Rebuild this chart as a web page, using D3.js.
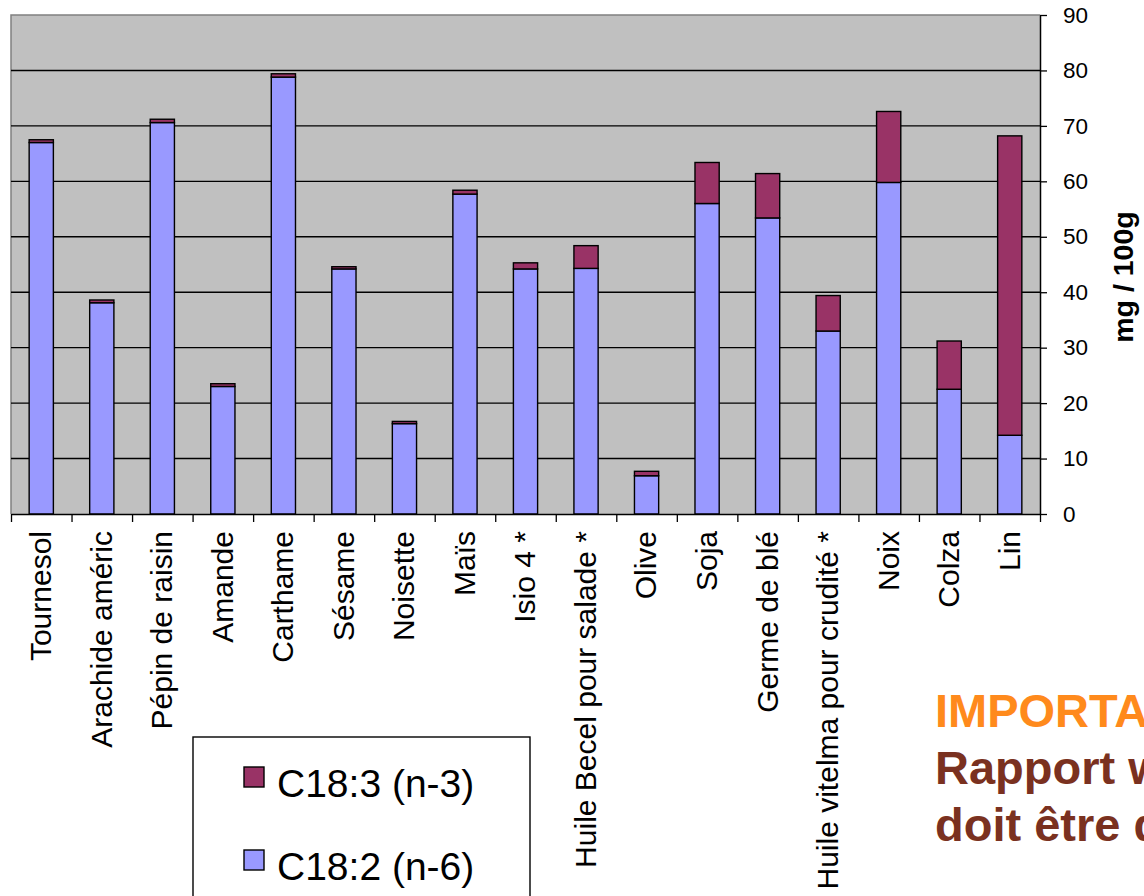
<!DOCTYPE html>
<html><head><meta charset="utf-8">
<script src="https://cdn.jsdelivr.net/npm/d3@7"></script>
<style>html,body{margin:0;padding:0;background:#fff;overflow:hidden}svg{display:block}</style>
</head><body>
<script>
const categories = ["Tournesol","Arachide améric","Pépin de raisin","Amande","Carthame","Sésame","Noisette","Maïs","Isio 4 *","Huile Becel pour salade *","Olive","Soja","Germe de blé","Huile vitelma pour crudité *","Noix","Colza","Lin"];
const n6 = [67.0, 38.1, 70.6, 23.0, 78.8, 44.2, 16.3, 57.7, 44.2, 44.3, 6.9, 56.0, 53.4, 33.0, 59.8, 22.5, 14.2];
const n3 = [0.5, 0.5, 0.6, 0.5, 0.6, 0.4, 0.4, 0.7, 1.1, 4.1, 0.8, 7.4, 8.0, 6.4, 12.8, 8.7, 54.0];
const seriesNames = ["C18:3 (n-3)", "C18:2 (n-6)"];
const yTicks = [0,10,20,30,40,50,60,70,80,90];
const gridTicks = [10,20,30,40,50,60,70,80];
const yTitle = "mg / 100g";
const noteLines = ["IMPORTANT :", "Rapport w6/w3", "doit être de 5/1"];

const W = 1144, H = 896;
const svg = d3.select("body").append("svg").attr("width", W).attr("height", H);
const L = 11, R = 1040, T = 15, B = 514;
const font = "'Liberation Sans', Arial, sans-serif";

const x = d3.scaleBand().domain(categories).range([L, R]).paddingInner(0.6).paddingOuter(0.3);
const xb = d3.scaleLinear().domain([0, categories.length]).range([L, R]);
const y = d3.scaleLinear().domain([0, 90]).range([B, T]);

// plot background
svg.append("rect").attr("x", L).attr("y", T).attr("width", R - L).attr("height", B - T).attr("fill", "#C0C0C0");
// top/left border gray
svg.append("path").attr("d", `M${L},${B}V${T}H${R}`).attr("fill", "none").attr("stroke", "#808080").attr("stroke-width", 1.5);

// gridlines
svg.append("g").selectAll("line").data(gridTicks).join("line")
  .attr("x1", L).attr("x2", R).attr("y1", d => y(d)).attr("y2", d => y(d))
  .attr("stroke", "#000").attr("stroke-width", 1.4);

// stacked bars
const stackData = categories.map((c, i) => ({cat: c, n6: n6[i], n3: n3[i]}));
const stack = d3.stack().keys(["n6", "n3"])(stackData);
const colors = {n6: "#9999FF", n3: "#993366"};
svg.append("g").selectAll("g").data(stack).join("g")
  .attr("fill", d => colors[d.key])
  .selectAll("rect").data(d => d).join("rect")
  .attr("x", d => x(d.data.cat))
  .attr("width", x.bandwidth())
  .attr("y", d => y(d[1]))
  .attr("height", d => y(d[0]) - y(d[1]))
  .attr("stroke", "#000").attr("stroke-width", 1.4);

// bottom axis with ticks between categories
const xAxis = svg.append("g").attr("transform", `translate(0,${B})`)
  .call(d3.axisBottom(xb).tickValues(d3.range(categories.length + 1)).tickFormat("").tickSize(8).tickSizeOuter(0));
xAxis.select(".domain").attr("stroke", "#000").attr("stroke-width", 1.5);
xAxis.selectAll(".tick line").attr("stroke", "#000").attr("stroke-width", 1.3);

// category labels
svg.append("g").selectAll("text").data(categories).join("text")
  .attr("transform", d => `translate(${x(d) + x.bandwidth() / 2},531) rotate(-90)`)
  .attr("text-anchor", "end").attr("dy", "0.33em")
  .attr("font-family", font).attr("font-size", 30).attr("fill", "#000")
  .text(d => d);

// right axis
const yAxis = svg.append("g").attr("transform", `translate(${R},0)`)
  .call(d3.axisRight(y).tickValues(yTicks).tickSize(7).tickPadding(16).tickSizeOuter(0));
yAxis.select(".domain").attr("stroke", "#000").attr("stroke-width", 1.5);
yAxis.selectAll(".tick line").attr("stroke", "#000").attr("stroke-width", 1.3);
yAxis.selectAll(".tick text").attr("font-family", font).attr("font-size", 22.5).attr("fill", "#000");

// y title
svg.append("text").attr("transform", `translate(1133,277) rotate(-90)`)
  .attr("text-anchor", "middle")
  .attr("font-family", font).attr("font-size", 28.5).attr("font-weight", "bold").text(yTitle);

// legend
const lg = svg.append("g");
lg.append("rect").attr("x", 193).attr("y", 737).attr("width", 337).attr("height", 200)
  .attr("fill", "#fff").attr("stroke", "#000").attr("stroke-width", 1.4);
const legItems = [{name: seriesNames[0], color: colors.n3}, {name: seriesNames[1], color: colors.n6}];
legItems.forEach((it, i) => {
  const oy = i * 83;
  lg.append("rect").attr("x", 244).attr("y", 767 + oy).attr("width", 20).attr("height", 20)
    .attr("fill", it.color).attr("stroke", "#000").attr("stroke-width", 1.4);
  lg.append("text").attr("x", 277).attr("y", 797 + oy)
    .attr("font-family", font).attr("font-size", 39).attr("fill", "#000").text(it.name);
});

// note text
const noteColors = ["#FF8A1C", "#7A3120", "#7A3120"];
noteLines.forEach((t, i) => {
  svg.append("text").attr("x", 935).attr("y", 727 + i * 57)
    .attr("font-family", font).attr("font-size", 47).attr("font-weight", "bold")
    .attr("fill", noteColors[i]).text(t);
});
</script>
</body></html>
